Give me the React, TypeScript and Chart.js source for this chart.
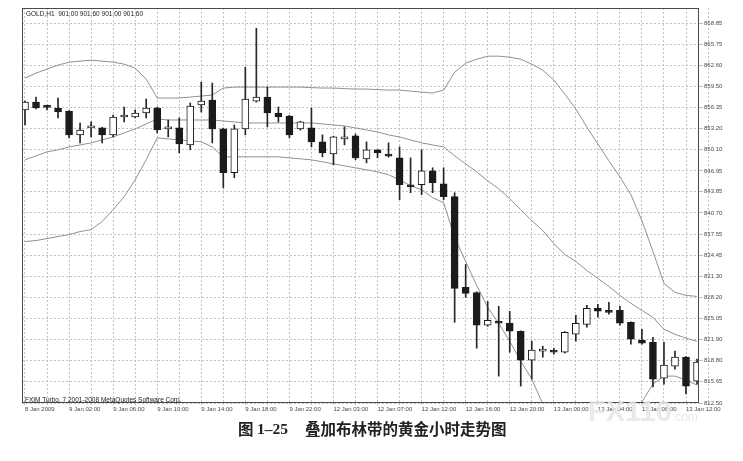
import React, { useEffect, useRef } from 'react';
import { Chart, registerables } from 'chart.js';

Chart.register(...registerables);

// ---- Data (GOLD H1) ----
const opens = [
  855.98, 857.17, 856.43, 856.28, 855.83, 852.29, 853.32, 853.32, 852.29, 854.95,
  854.95, 855.54, 856.28, 853.17, 853.32, 850.81, 856.72, 857.46, 853.17, 846.67,
  853.17, 857.31, 857.91, 855.54, 855.09, 853.17, 853.32, 851.25, 849.48, 851.7,
  852.14, 848.74, 850.07, 849.18, 848.88, 844.89, 844.89, 846.96, 845.04, 843.12,
  829.66, 828.9, 824.04, 824.63, 824.33, 823.15, 818.86, 820.19, 820.34, 820.04,
  822.7, 824.18, 826.55, 826.11, 826.26, 824.48, 821.82, 821.52, 816.2, 817.97,
  819.3, 815.75,
];
const highs = [
  857.3, 857.91, 856.72, 857.76, 855.9, 854.06, 854.21, 853.4, 855.24, 856.43,
  855.98, 857.61, 856.43, 854.5, 854.8, 857.02, 860.12, 859.98, 853.3, 853.76,
  862.34, 868.11, 859.38, 856.43, 855.2, 854.3, 856.28, 852.29, 852.1, 853.47,
  852.4, 851.25, 850.1, 851.1, 850.51, 848.88, 850.07, 847.41, 847.41, 843.71,
  833.06, 829.0, 827.58, 826.85, 826.11, 823.2, 821.67, 820.93, 820.63, 823.1,
  825.52, 826.99, 827.14, 827.43, 826.85, 824.55, 823.44, 822.26, 821.52, 820.19,
  819.4, 819.0,
];
const lows = [
  853.76, 856.13, 855.98, 854.8, 851.84, 851.1, 851.99, 851.1, 851.99, 854.21,
  854.8, 854.8, 852.58, 851.99, 849.62, 850.07, 855.69, 851.1, 844.45, 845.93,
  852.29, 857.17, 853.47, 854.21, 851.84, 853.0, 850.51, 849.03, 847.85, 850.81,
  848.6, 848.14, 848.88, 849.0, 842.67, 843.71, 843.41, 843.71, 842.67, 824.48,
  828.18, 820.63, 823.89, 816.49, 820.04, 815.01, 816.05, 819.3, 819.74, 819.9,
  821.67, 823.74, 825.22, 825.67, 824.04, 821.22, 821.22, 814.87, 815.31, 817.53,
  813.83, 815.31,
];
const closes = [
  857.17, 856.28, 856.38, 855.69, 852.29, 853.02, 853.36, 852.29, 854.95, 855.0,
  855.54, 856.28, 853.02, 853.21, 850.95, 856.57, 857.31, 853.17, 846.67, 853.17,
  857.61, 857.91, 855.54, 854.95, 852.29, 854.21, 851.25, 849.62, 851.99, 851.99,
  848.88, 850.07, 849.62, 849.14, 844.89, 844.59, 846.96, 845.19, 843.12, 829.51,
  828.77, 824.04, 824.78, 824.33, 823.15, 818.86, 820.34, 820.23, 820.04, 823.0,
  824.33, 826.55, 826.11, 825.96, 824.33, 821.96, 821.37, 816.05, 818.12, 819.3,
  815.01, 818.57,
];
const upperBand = [
  860.72, 861.46, 862.05, 862.64, 863.08, 863.23, 863.38, 863.23, 863.08, 862.79,
  862.19, 860.57, 857.76, 857.76, 857.76, 857.9, 858.05, 858.2, 859.24, 859.38,
  859.38, 859.38, 859.38, 859.38, 859.38, 859.38, 859.31, 859.24, 859.24, 859.16,
  859.09, 859.09, 859.01, 858.94, 858.94, 858.79, 858.64, 858.5, 858.94, 861.6,
  862.93, 863.52, 863.97, 863.97, 863.82, 863.52, 862.79, 861.9, 860.42, 858.35,
  856.13, 853.47, 850.95, 848.44, 846.07, 843.41, 839.56, 834.98, 830.25, 828.92,
  828.47, 828.32,
];
const middleBand = [
  848.59, 849.18, 849.77, 850.07, 850.51, 850.8, 851.1, 851.54, 851.99, 852.58,
  853.17, 853.91, 854.65, 854.5, 854.5, 854.5, 854.5, 854.5, 854.35, 854.21,
  854.06, 854.06, 854.06, 854.06, 854.06, 854.06, 854.06, 853.91, 853.76, 853.62,
  853.32, 853.02, 852.73, 852.28, 851.99, 851.54, 851.1, 850.8, 850.51, 849.18,
  847.99, 846.81, 845.48, 844.3, 842.82, 841.19, 839.56, 838.09, 836.16, 834.54,
  833.5, 832.17, 830.99, 829.8, 828.47, 827.29, 826.25, 825.22, 823.44, 822.7,
  822.11, 821.67,
];
const lowerBand = [
  836.46, 836.61, 836.9, 837.2, 837.49, 837.94, 838.23, 839.42, 841.19, 843.11,
  845.63, 848.59, 851.84, 851.69, 851.54, 851.4, 851.25, 850.51, 849.03, 849.03,
  849.03, 849.03, 849.03, 849.03, 848.88, 848.73, 848.59, 848.29, 847.99, 847.7,
  847.4, 847.11, 846.81, 846.37, 845.63, 844.74, 844.15, 842.97, 842.23, 837.05,
  833.5, 829.95, 826.7, 824.33, 821.67, 818.71, 816.05, 812.35, 811.32, 810.72,
  810.72, 810.87, 811.02, 811.17, 811.02, 811.32, 812.65, 815.31, 816.49, 816.49,
  815.9, 815.16,
];
const yTickValues = [
  868.85, 865.75, 862.6, 859.5, 856.35, 853.2, 850.1, 846.95, 843.85, 840.7,
  837.55, 834.45, 831.3, 828.2, 825.05, 821.9, 818.8, 815.65, 812.5,
];
const xTickLabels = [
  '8 Jan 2009', '9 Jan 02:00', '9 Jan 06:00', '9 Jan 10:00', '9 Jan 14:00',
  '9 Jan 18:00', '9 Jan 22:00', '12 Jan 03:00', '12 Jan 07:00', '12 Jan 12:00',
  '12 Jan 16:00', '12 Jan 20:00', '13 Jan 00:00', '13 Jan 04:00', '13 Jan 08:00',
  '13 Jan 12:00',
];
const headerText = 'GOLD,H1  901.00 901.60 901.00 901.60';
const footerText = 'FXIM Turbo, 7 2001-2008 MetaQuotes Software Corp.';

const DARK = '#1b1b1b';
const GRID = '#c2c2c2';
const BAND = '#909090';
const AXIS_FONT = { family: '"Liberation Sans", Arial, sans-serif', size: 6 };

const framePlugin = {
  id: 'frame',
  afterDraw(chart: any) {
    const { ctx, chartArea } = chart;
    ctx.save();
    ctx.strokeStyle = '#4a4a4a';
    ctx.lineWidth = 1;
    ctx.strokeRect(
      Math.round(chartArea.left) + 0.5,
      Math.round(chartArea.top) + 0.5,
      Math.round(chartArea.right - chartArea.left) - 1,
      Math.round(chartArea.bottom - chartArea.top) - 1
    );
    ctx.restore();
  },
};

export default function App() {
  const ref = useRef<HTMLCanvasElement>(null);

  useEffect(() => {
    if (!ref.current) return;
    const pos = opens.map((_, k) => k + 1);
    const bandData = (arr: number[]) => arr.map((v, k) => ({ x: pos[k], y: v }));
    const lineStyle = {
      type: 'line',
      borderColor: BAND,
      borderWidth: 1,
      pointRadius: 0,
      tension: 0,
      fill: false,
      order: 2,
    };
    const chart = new Chart(ref.current, {
      type: 'bar',
      data: {
        datasets: [
          {
            type: 'bar',
            label: 'body',
            data: opens.map((o, k) => ({ x: pos[k], y: [o, closes[k]] })) as any,
            backgroundColor: opens.map((o, k) => (closes[k] >= o ? '#ffffff' : DARK)),
            borderColor: DARK,
            borderWidth: 1,
            borderSkipped: false,
            barThickness: 7,
            minBarLength: 2,
            grouped: false,
            order: 0,
          } as any,
          {
            type: 'bar',
            label: 'wick',
            data: lows.map((l, k) => ({ x: pos[k], y: [l, highs[k]] })) as any,
            backgroundColor: '#262626',
            borderWidth: 0,
            barThickness: 1,
            grouped: false,
            order: 1,
          } as any,
          { ...lineStyle, label: 'upper', data: bandData(upperBand) } as any,
          { ...lineStyle, label: 'middle', data: bandData(middleBand) } as any,
          { ...lineStyle, label: 'lower', data: bandData(lowerBand) } as any,
        ],
      },
      options: {
        responsive: false,
        maintainAspectRatio: false,
        animation: false,
        layout: { padding: { left: 22, top: 8, right: 0, bottom: 44 } },
        plugins: {
          legend: { display: false },
          tooltip: { enabled: false },
        },
        scales: {
          x: {
            type: 'linear',
            min: 0.728,
            max: 62.18,
            offset: false,
            grid: { color: GRID, lineWidth: 1, drawTicks: true, tickLength: 2, offset: false },
            border: { display: false, dash: [2, 2] },
            ticks: {
              autoSkip: false,
              maxRotation: 0,
              minRotation: 0,
              align: 'start',
              padding: 1,
              color: '#4a4a4a',
              font: AXIS_FONT,
              callback: (value: any) => {
                const k = (Number(value) - 1) / 4;
                return Number.isInteger(k) && xTickLabels[k] ? xTickLabels[k] : '';
              },
            },
            afterBuildTicks: (scale: any) => {
              const t: { value: number }[] = [];
              for (let v = 1; v <= xTickLabels.length * 4; v += 2) t.push({ value: v });
              scale.ticks = t;
            },
            afterFit: (scale: any) => {
              scale.height = 14;
            },
          } as any,
          y: {
            type: 'linear',
            position: 'right',
            min: 812.5,
            max: 871.12,
            beginAtZero: false,
            grid: { color: GRID, lineWidth: 1, drawTicks: true, tickLength: 4 },
            border: { display: false, dash: [2, 2] },
            ticks: {
              padding: 1,
              color: '#4a4a4a',
              font: AXIS_FONT,
              callback: (value: any) => Number(value).toFixed(2),
            },
            afterBuildTicks: (scale: any) => {
              scale.ticks = yTickValues.map((v) => ({ value: v }));
            },
            afterFit: (scale: any) => {
              scale.width = 44;
            },
          } as any,
        },
      },
      plugins: [framePlugin],
    } as any);
    return () => chart.destroy();
  }, []);

  const small: React.CSSProperties = {
    position: 'absolute',
    fontFamily: '"Liberation Sans", Arial, sans-serif',
    fontSize: 6.5,
    lineHeight: '8px',
    color: '#222',
    whiteSpace: 'pre',
  };
  const caption: React.CSSProperties = {
    position: 'absolute',
    top: 420,
    fontFamily: '"Noto Sans CJK SC", sans-serif',
    fontWeight: 'bold',
    fontSize: 15.5,
    lineHeight: '17px',
    color: '#222',
    whiteSpace: 'pre',
  };

  return (
    <div
      style={{
        position: 'absolute',
        left: 0,
        top: 0,
        width: 743,
        height: 461,
        background: '#ffffff',
        overflow: 'hidden',
      }}
    >
      <canvas
        ref={ref}
        width={743}
        height={461}
        style={{ position: 'absolute', left: 0, top: 0, width: 743, height: 461 }}
      />
      <div style={{ ...small, left: 26, top: 10 }}>{headerText}</div>
      <div style={{ ...small, left: 25, top: 396 }}>{footerText}</div>
      <div
        style={{
          position: 'absolute',
          left: 588,
          top: 397,
          fontFamily: '"Liberation Sans", Arial, sans-serif',
          fontWeight: 'bold',
          fontSize: 29,
          lineHeight: '29px',
          color: 'rgba(230,230,230,0.85)',
          whiteSpace: 'pre',
        }}
      >
        FX110
        <span style={{ fontSize: 12, fontWeight: 'normal' }}>.com</span>
      </div>
      <div style={{ ...caption, left: 238 }}>图</div>
      <div style={{ ...caption, left: 257, fontFamily: '"Liberation Serif", serif' }}>1–25</div>
      <div style={{ ...caption, left: 305 }}>叠加布林带的黄金小时走势图</div>
    </div>
  );
}
